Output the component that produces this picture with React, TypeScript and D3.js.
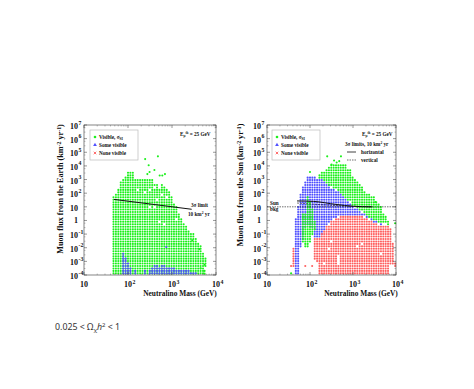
import { useEffect, useRef } from "react";
import * as d3 from "d3";

// mass grid, log10(GeV)
const massColumns = [1.56, 1.615, 1.67, 1.725, 1.78, 1.835, 1.89, 1.945, 2.0, 2.055, 2.11, 2.165, 2.22, 2.275, 2.33, 2.385, 2.44, 2.495, 2.55, 2.605, 2.66, 2.715, 2.77, 2.825, 2.88, 2.935, 2.99, 3.045, 3.1, 3.155, 3.21, 3.265, 3.32, 3.375, 3.43, 3.485, 3.54, 3.595, 3.65, 3.705, 3.76, 3.815, 3.87, 3.925, 3.98];
// flux grid, log10(km^-2 yr^-1)
const fluxRows = [-3.88, -3.7, -3.52, -3.34, -3.16, -2.98, -2.8, -2.62, -2.44, -2.26, -2.08, -1.9, -1.72, -1.54, -1.36, -1.18, -1.0, -0.82, -0.64, -0.46, -0.28, -0.1, 0.08, 0.26, 0.44, 0.62, 0.8, 0.98, 1.16, 1.34, 1.52, 1.7, 1.88, 2.06, 2.24, 2.42, 2.6, 2.78, 2.96, 3.14, 3.32, 3.5, 3.68, 3.86, 4.04];

type Span = [number, number, number]; // column index, low, high
type Dot = [number, number]; // log mass, log flux

const earthVisible: Span[] = [[2, -4, 1.7], [3, -4, 2.0], [4, -4, 2.3], [5, -4, 2.85], [6, -4, 3.0], [7, -4, 3.2], [8, -4, 3.55], [9, -4, 3.55], [10, -4, 3.55], [11, -4, 3.1], [12, -4, 3.1], [13, -4, 3.1], [14, -4, 3.1], [15, -4, 3.1], [16, -4, 3.1], [17, -4, 3.1], [18, -4, 3.0], [19, -4, 2.7], [20, -4, 2.7], [21, -4, 2.4], [22, -4, 2.6], [23, -4, 2.5], [24, -4, 2.3], [25, -4, 2.1], [26, -4, 1.7], [27, -4, 1.2], [28, -4, 1.0], [29, -4, 0.5], [30, -4, 0.1], [31, -4, -0.2], [32, -4, -0.45], [33, -4, -0.7], [34, -4, -0.85], [35, -4, -1.0], [36, -4, -1.3], [37, -4, -1.6], [38, -4, -1.9], [39, -4, -2.4], [40, -3.4, -2.8]];
const earthVisibleExtra: Dot[] = [[2.39, 4.5], [2.68, 4.7], [2.47, 4.05], [2.6, 3.7], [2.49, 3.55], [2.44, 3.4], [2.72, 3.3], [2.84, 3.4], [2.78, 3.3], [3.46, -1.45], [3.62, -2.1], [3.74, -3.25], [3.74, -3.7], [3.74, -3.9], [3.65, -3.5]];
const earthSome: Span[] = [[6, -4, -2.3], [7, -4, -2.7], [8, -4, -3.1], [9, -4, -3.5], [11, -4, -3.7], [15, -4, -3.7], [17, -4, -3.6], [18, -4, -3.4], [19, -4, -3.3], [20, -4, -3.3], [21, -4, -3.4], [22, -4, -3.3], [23, -4, -3.3], [24, -4, -3.4], [25, -4, -3.4], [26, -4, -3.4], [27, -4, -3.4], [28, -4, -3.6], [29, -4, -3.6], [30, -4, -3.6], [31, -4, -3.6], [32, -4, -3.6], [33, -4, -3.7], [34, -4, -3.8], [35, -4, -3.8], [36, -4, -3.8]];
const earthSomeExtra: Dot[] = [[2.87, -1.95]];
const earthHoles: Dot[] = [[2.2, 2.24], [2.36, 2.06], [2.47, 2.24], [2.6, 2.42], [2.76, 1.88], [2.66, 1.52], [2.5, 1.0], [2.88, 1.7], [2.7, -0.1], [2.83, -0.28], [2.6, 0.98], [3.1, 0.08]];

const sunSome: Span[] = [[2, -4, 0.2], [3, -4, 1.0], [4, -2, 2.0], [5, -1.5, 2.5], [6, -0.6, 2.9], [7, -0.3, 3.2], [8, -0.5, 3.2], [9, -0.5, 3.2], [10, -1.2, 3.15], [11, -1.3, 3.05], [12, -1.3, 3.05], [13, -1.0, 3.0], [14, -0.7, 2.85], [15, -0.4, 2.7], [16, -0.2, 2.6], [17, 0, 2.4], [18, 0.1, 2.3], [19, 0.2, 2.2], [20, 0.3, 2.1], [21, 0.4, 1.9], [22, 0.4, 1.8], [23, 0.4, 1.6], [24, 0.4, 1.45], [25, 0.4, 1.3], [26, 0.4, 1.1], [27, 0.4, 0.95], [28, 0.4, 0.85], [29, 0.4, 0.7], [30, 0.4, 0.6], [31, 0.3, 0.5], [32, 0.2, 0.35], [33, 0.1, 0.2], [34, 0.0, 0.1], [35, -0.1, 0.0], [36, -0.2, -0.05], [38, -0.3, -0.15], [40, -0.4, -0.3]];
const sunNone: Span[] = [[1, -3.4, -2.0], [10, -2.9, -1.3], [11, -3.1, -1.2], [12, -4, -1.2], [13, -4, -1.0], [14, -4, -0.7], [15, -4, -0.4], [16, -4, -0.3], [17, -4, -0.1], [18, -4, 0.05], [19, -4, 0.15], [20, -4, 0.2], [21, -4, 0.33], [22, -4, 0.33], [23, -4, 0.33], [24, -4, 0.33], [25, -4, 0.33], [26, -4, 0.33], [27, -4, 0.33], [28, -4, 0.33], [29, -4, 0.33], [30, -4, 0.33], [31, -4, 0.25], [32, -4, 0.15], [33, -4, 0.05], [34, -4, -0.1], [35, -4, -0.2], [36, -4, -0.25], [37, -4, -0.3], [38, -4, -0.4], [39, -4, -0.4], [40, -4, -0.4], [41, -3.9, -0.4], [42, -3.2, -0.5], [43, -3.2, -1.7], [44, -3.5, -3.0]];
const sunNoneExtra: Dot[] = [[1.56, -3.34], [1.89, -3.34], [2.05, -3.34]];
const sunVisible: Span[] = [[12, 3.1, 3.45], [13, 3.05, 3.5], [14, 2.9, 3.6], [15, 2.75, 3.7], [16, 2.6, 3.9], [17, 2.45, 4.05], [18, 2.35, 4.05], [19, 2.25, 4.05], [20, 2.1, 4.05], [21, 1.95, 4.05], [22, 1.8, 4.05], [23, 1.65, 4.05], [24, 1.5, 3.8], [25, 1.35, 3.7], [26, 1.15, 3.2], [27, 1.0, 3.0], [28, 0.9, 2.8], [29, 0.75, 2.6], [30, 0.65, 2.5], [31, 0.55, 2.2], [32, 0.4, 2.0], [33, 0.25, 1.9], [34, 0.15, 1.8], [35, 0.05, 1.7], [36, 0.0, 1.5], [37, -0.1, 1.2], [38, -0.1, 1.0], [39, -0.2, 0.6], [40, -0.25, 0.3], [41, -0.3, 0.0]];
const sunVisibleLow: Span[] = [[0, -4, -3.8], [5, -1.7, 0.5], [6, -2.0, 0.5], [7, -2.0, 1.7], [8, -1.7, 1.5], [9, -1.0, 0.9], [10, -0.7, -0.1]];
const sunVisibleExtra: Dot[] = [[2.4, 4.7], [2.72, 4.7], [2.56, 4.4], [2.68, 4.35], [2.62, 4.25], [2.5, 4.1], [2.0, 3.55], [3.52, 1.35], [3.98, -0.2]];
const sunHoles: Dot[] = [[2.66, -2.62], [2.66, -2.8], [2.66, -2.98], [2.66, -3.16], [3.1, -1.9], [3.21, -1.72], [3.65, -2.44], [2.44, -2.08], [2.33, -3.16], [2.5, -1.54]];

const limitEarthMass = [48, 2800];
const limitEarthFlux = [35, 6.6];
const limitSunHorizMass = [50, 120, 400, 1000, 2800];
const limitSunHorizFlux = [27, 25, 15, 11, 10];
const limitSunVertMass = [50, 150, 500, 1500, 2800];
const limitSunVertFlux = [19, 15, 12, 10.5, 10];
const sunBackgroundMass = [10, 10000];
const sunBackgroundFlux = [10, 10];

const massTicks = [10, 100, 1000, 10000];
const massTickPowers = ["", "2", "3", "4"];
const fluxTicks = [1e-4, 1e-3, 1e-2, 1e-1, 1, 10, 1e2, 1e3, 1e4, 1e5, 1e6, 1e7];
const fluxTickPowers = ["-4", "-3", "-2", "-1", "", "", "2", "3", "4", "5", "6", "7"];

const GREEN = "#1cf01c";
const BLUE = "#5050ff";
const RED = "#ff5f5f";
const SERIF = "'Liberation Serif', serif";

const App = () => {
  const ref = useRef<SVGSVGElement>(null);

  useEffect(() => {
    const svg = d3.select(ref.current);
    svg.selectAll("*").remove();

    const label = (g: any, x: number, y: number, size: number, parts: [string, number?, string?][], anchor = "start") => {
      const t = g.append("text").attr("x", x).attr("y", y).attr("font-size", size).attr("font-family", SERIF).attr("font-weight", "bold").attr("text-anchor", anchor).attr("fill", "#111");
      parts.forEach(([s, dy, fs]) => t.append("tspan").attr("dy", dy || 0).attr("font-size", fs || size).text(s));
      return t;
    };

    const panel = (o: any) => {
      const x = d3.scaleLog().domain([10, 10000]).range([o.left, o.right]);
      const y = d3.scaleLog().domain([1e-4, 1e7]).range([275, 125]);
      const g = svg.append("g");

      const isHole = (m: number, f: number) => o.holes.some((h: Dot) => Math.abs(h[0] - m) < 0.028 && Math.abs(h[1] - f) < 0.09);
      const expand = (spans: Span[]) =>
        spans.flatMap(([i, lo, hi]) =>
          fluxRows.filter((f) => f >= lo && f <= hi && !isHole(massColumns[i], f)).map((f) => [massColumns[i], f] as Dot)
        );

      o.layers.forEach((layer: any) => {
        const pts: Dot[] = [...expand(layer.spans), ...(layer.extra || [])];
        g.append("g")
          .selectAll("circle")
          .data(pts)
          .join("circle")
          .attr("cx", (d) => x(10 ** d[0]))
          .attr("cy", (d) => y(10 ** d[1]))
          .attr("r", 1.05)
          .attr("fill", layer.color);
      });

      // frame and ticks
      g.append("rect").attr("x", o.left).attr("y", 125).attr("width", o.right - o.left).attr("height", 150).attr("fill", "none").attr("stroke", "#333").attr("stroke-width", 0.6);
      const tick = (x1: number, y1: number, x2: number, y2: number, w: number) =>
        g.append("line").attr("x1", x1).attr("y1", y1).attr("x2", x2).attr("y2", y2).attr("stroke", "#333").attr("stroke-width", w);
      massTicks.forEach((m, i) => {
        tick(x(m), 275, x(m), 272, 0.5);
        tick(x(m), 125, x(m), 128, 0.5);
        if (i < 3) d3.range(2, 10).forEach((k) => {
          tick(x(m * k), 275, x(m * k), 273.5, 0.3);
          tick(x(m * k), 125, x(m * k), 126.5, 0.3);
        });
        label(g, x(m), 287, 8, [["10"]], "middle");
        if (massTickPowers[i]) label(g, x(m) + 4.5, 283.5, 5.8, [[massTickPowers[i]]]);
      });
      fluxTicks.forEach((f, i) => {
        tick(o.left, y(f), o.left + 3, y(f), 0.5);
        tick(o.right, y(f), o.right - 3, y(f), 0.5);
        if (i < 11) [3, 10 ** 0.5 * 2].forEach((k) => {
          tick(o.left, y(f * k), o.left + 1.5, y(f * k), 0.3);
          tick(o.right, y(f * k), o.right - 1.5, y(f * k), 0.3);
        });
        const endX = o.left - 6;
        if (f === 1) label(g, endX, y(f) + 3, 8, [["1"]], "end");
        else {
          label(g, endX, y(f) + 4, 8, [["10"]], "end");
          const pw = fluxTickPowers[i];
          if (pw) label(g, endX + 0.5, y(f) - 0.5, 5.8, [[pw]]);
        }
      });

      const line = d3.line<[number, number]>().x((d) => x(d[0])).y((d) => y(d[1])).curve(d3.curveMonotoneX);
      o.lines.forEach((l: any) => {
        g.append("path")
          .attr("d", line(l.mass.map((m: number, i: number) => [m, l.flux[i]])))
          .attr("fill", "none")
          .attr("stroke", "#111")
          .attr("stroke-width", l.w)
          .attr("stroke-dasharray", l.dash || null);
      });

      // axis titles
      label(g, o.xTitleX, 296, 7.4, [["Neutralino Mass (GeV)"]], "middle");
      const yt = label(g, 0, 0, 8.2, [], "middle").attr("transform", `translate(${o.titleX},${o.titleY}) rotate(-90)`);
      yt.append("tspan").text(o.title);
      yt.append("tspan").text(" (km");
      yt.append("tspan").attr("dy", -2.5).attr("font-size", 5.8).text("-2");
      yt.append("tspan").attr("dy", 2.5).text(" yr");
      yt.append("tspan").attr("dy", -2.5).attr("font-size", 5.8).text("-1");
      yt.append("tspan").attr("dy", 2.5).text(")");

      // legend
      g.append("rect").attr("x", o.legX).attr("y", 130).attr("width", 48).attr("height", 30).attr("fill", "white").attr("stroke", "#bbb").attr("stroke-width", 0.7);
      const lx = o.legX + 5;
      g.append("circle").attr("cx", lx).attr("cy", 137).attr("r", 1.3).attr("fill", GREEN);
      g.append("path").attr("d", d3.symbol(d3.symbolTriangle, 6)()).attr("transform", `translate(${lx},145)`).attr("fill", BLUE);
      g.append("path").attr("d", d3.symbol(d3.symbolX, 5)()).attr("transform", `translate(${lx},153)`).attr("fill", "none").attr("stroke", RED).attr("stroke-width", 0.9);
      const vis = label(g, lx + 4, 139, 5.2, [["Visible, σ"]]);
      vis.append("tspan").attr("dy", 1.2).attr("font-size", 3.6).text("SI");
      label(g, lx + 4, 147, 5.2, [["Some visible"]]);
      label(g, lx + 4, 155, 5.2, [["None visible"]]);

      // threshold note
      const th = label(g, o.thX, 136, 5.2, [["E"]]);
      th.append("tspan").attr("dy", 1).attr("font-size", 3.4).text("μ");
      th.append("tspan").attr("dy", -3).attr("font-size", 3.4).text("th");
      th.append("tspan").attr("dy", 2).text(" = 25 GeV");
      return g;
    };

    const left = panel({
      left: 84, right: 216, titleX: 63, titleY: 189, xTitleX: 180, title: "Muon flux from the Earth", legX: 90, thX: 180, holes: earthHoles,
      layers: [
        { spans: earthVisible, extra: earthVisibleExtra, color: GREEN },
        { spans: earthSome, extra: earthSomeExtra, color: BLUE },
      ],
      lines: [{ mass: limitEarthMass, flux: limitEarthFlux, w: 1 }],
    });
    label(left, 191, 207, 5.2, [["3σ limit"]]);
    const l2 = label(left, 188, 216, 5.2, [["10 km"]]);
    l2.append("tspan").attr("dy", -2).attr("font-size", 3.6).text("2");
    l2.append("tspan").attr("dy", 2).text(" yr");

    const right = panel({
      left: 267, right: 396, titleX: 243, titleY: 185, xTitleX: 361, title: "Muon flux from the Sun", legX: 272, thX: 362, holes: sunHoles,
      layers: [
        { spans: sunSome, color: BLUE },
        { spans: sunNone, extra: sunNoneExtra, color: RED },
        { spans: sunVisible, extra: sunVisibleExtra, color: GREEN },
        { spans: sunVisibleLow, color: GREEN },
      ],
      lines: [
        { mass: sunBackgroundMass, flux: sunBackgroundFlux, w: 0.6, dash: "1.5,1" },
        { mass: limitSunHorizMass, flux: limitSunHorizFlux, w: 1 },
        { mass: limitSunVertMass, flux: limitSunVertFlux, w: 0.6, dash: "2,1" },
      ],
    });
    const r1 = label(right, 345, 146, 5.2, [["3σ limits, 10 km"]]);
    r1.append("tspan").attr("dy", -2).attr("font-size", 3.6).text("2");
    r1.append("tspan").attr("dy", 2).text(" yr");
    right.append("line").attr("x1", 347).attr("x2", 356).attr("y1", 152).attr("y2", 152).attr("stroke", "#111").attr("stroke-width", 0.8);
    label(right, 361, 154, 5.2, [["horizontal"]]);
    right.append("line").attr("x1", 347).attr("x2", 356).attr("y1", 160).attr("y2", 160).attr("stroke", "#111").attr("stroke-width", 0.6).attr("stroke-dasharray", "1.5,1");
    label(right, 361, 162, 5.2, [["vertical"]]);
    label(right, 270, 205, 5.2, [["Sun"]]);
    label(right, 270, 211, 5.2, [["bkg"]]);

    // relic density caption
    const cap = svg.append("text").attr("x", 55).attr("y", 330).attr("font-size", 8.8).attr("font-family", "'Noto Sans', sans-serif").attr("fill", "#333");
    cap.append("tspan").text("0.025 < Ω");
    cap.append("tspan").attr("dy", 1.5).attr("font-size", 6).text("χ");
    cap.append("tspan").attr("dy", -1.5).attr("font-style", "italic").text("h");
    cap.append("tspan").attr("dy", -3).attr("font-size", 6).text("2");
    cap.append("tspan").attr("dy", 3).text(" < 1");
  }, []);

  return <svg ref={ref} width={474} height={389} style={{ position: "absolute", left: 0, top: 0 }} />;
};

export default App;
